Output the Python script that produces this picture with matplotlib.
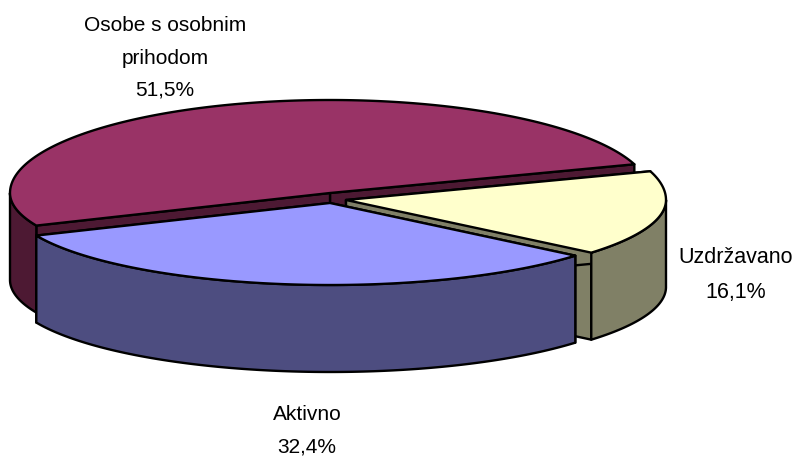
import numpy as np
import matplotlib
matplotlib.use("Agg")
import matplotlib.pyplot as plt

categories = ["Osobe s osobnim\nprihodom", "Aktivno", "Uzdržavano"]
values = [51.5, 32.4, 16.1]
top_colors = ["#993366", "#9999FF", "#FFFFCC"]
side_colors = ["#4D1933", "#4D4D80", "#808066"]
centers = [(330, 193), (330, 203), (346, 200)]
label_pos = [(165, 58), (307, 431), (736, 275)]
label_sizes = [15, 15, 15.5]
START = 18.0
RX, RY_BACK, RY_FRONT, DEPTH = 320, 93, 82, 87
LW = 1.7

fig = plt.figure(figsize=(7.96, 4.59), dpi=100)
ax = fig.add_axes([0, 0, 1, 1])
ax.set_xlim(0, 796)
ax.set_ylim(459, 0)
ax.axis("off")


def rim(center, a0, a1):
    t = np.radians(np.linspace(a0, a1, 200))
    s = np.sin(t)
    x = center[0] + RX * np.cos(t)
    y = center[1] - np.where(s > 0, RY_BACK, RY_FRONT) * s
    return x, y


def poly(x, y, color, z):
    ax.fill(x, y, facecolor=color, edgecolor="black", linewidth=LW,
            joinstyle="round", zorder=z)


angles = START + np.concatenate([[0], np.cumsum(values)]) * 3.6
for i, order in enumerate([0, 2, 1]):
    a0, a1 = angles[order], angles[order + 1]
    c = centers[order]
    xr, yr = rim(c, a0, a1)
    z = 2 + i * 3
    # flat cut faces
    for xe, ye in [(xr[0], yr[0]), (xr[-1], yr[-1])]:
        poly([c[0], xe, xe, c[0]], [c[1], ye, ye + DEPTH, c[1] + DEPTH],
             side_colors[order], z)
    # outer curved wall: only the front half of the rim is visible
    lo, hi = max(a0, 180), min(a1, 360)
    if hi > lo:
        xs, ys = rim(c, lo, hi)
        poly(np.r_[xs, xs[::-1]], np.r_[ys, ys[::-1] + DEPTH],
             side_colors[order], z + 1)
    # top face
    poly(np.r_[c[0], xr], np.r_[c[1], yr], top_colors[order], z + 2)

for name, v, (lx, ly), fs in zip(categories, values, label_pos, label_sizes):
    ax.text(lx, ly, f"{name}\n{v:.1f}%".replace(".", ","), ha="center", va="center",
            family="Liberation Sans", fontsize=fs, linespacing=1.9, color="black", zorder=20)

fig.savefig("out.png", dpi=100)
